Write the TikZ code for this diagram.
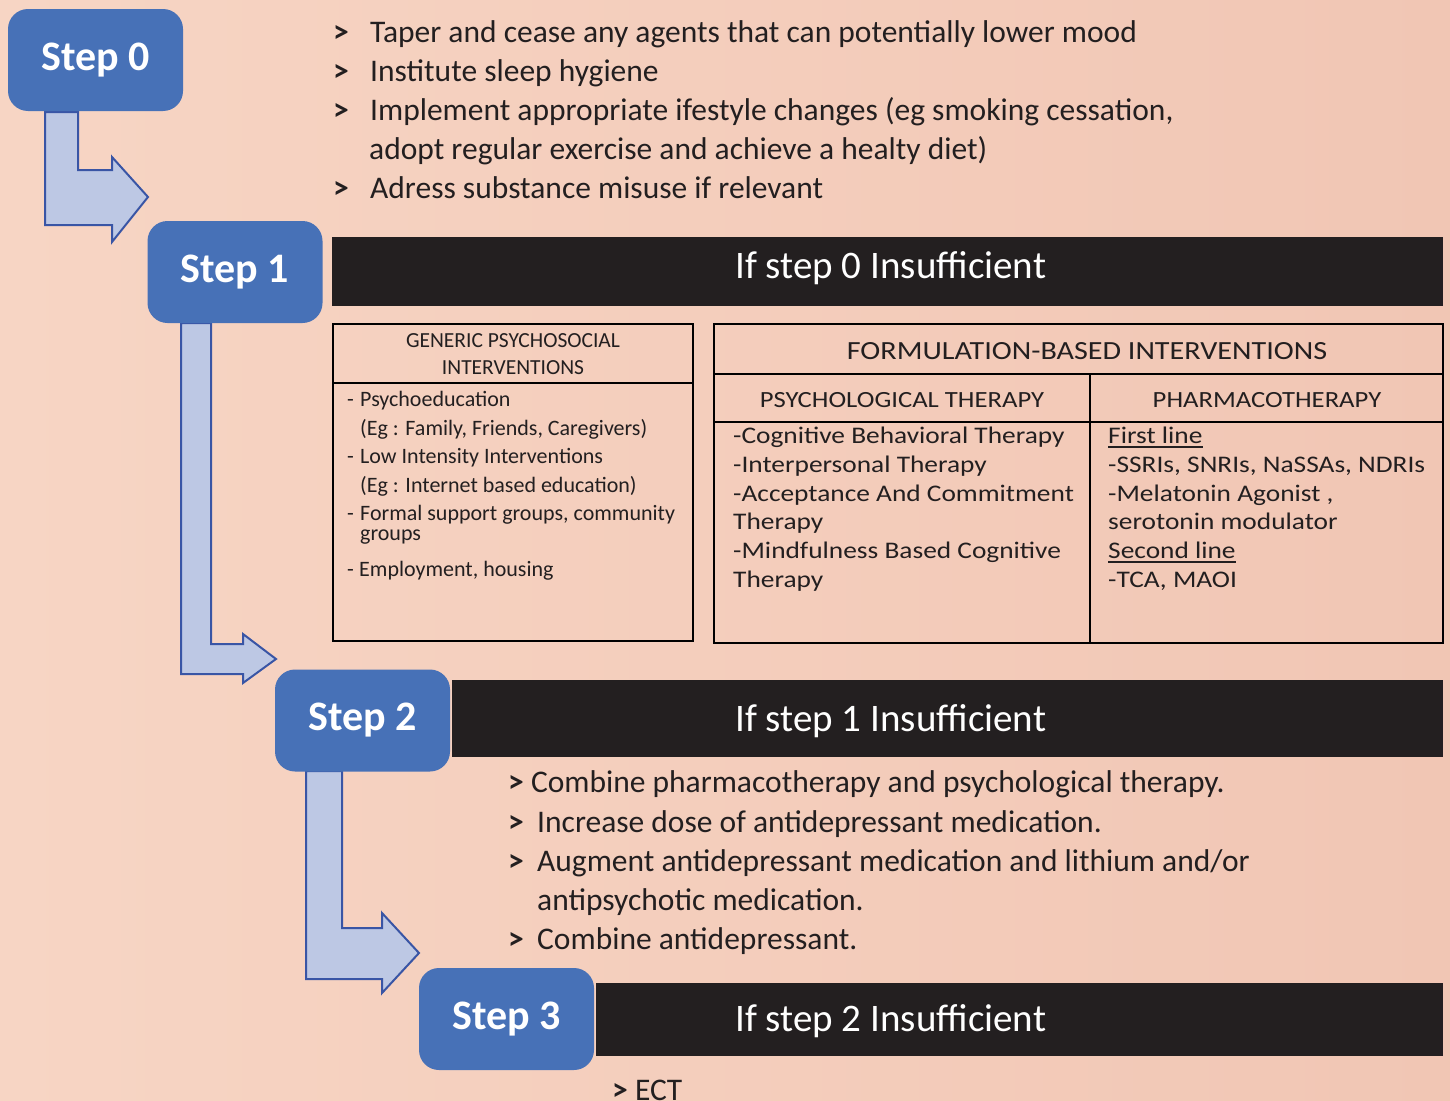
\documentclass[tikz,border=0pt]{standalone}
\usepackage{fontspec}
\setmainfont{Carlito}
\newfontfamily\widefont[FakeStretch=1.15]{Carlito}
\definecolor{bgL}{HTML}{F7D5C4}
\definecolor{bgR}{HTML}{F1C6B4}
\definecolor{stepblue}{HTML}{4771B7}
\definecolor{arrowfill}{HTML}{BDC8E4}
\definecolor{arrowline}{HTML}{3955A5}
\definecolor{barblack}{HTML}{231F20}
\definecolor{txt}{HTML}{231F20}
\newcommand{\gtmark}{\textbf{>}}
\begin{document}
\begin{tikzpicture}[x=1pt,y=-1pt,
  stepbox/.style={fill=stepblue, rounded corners=20pt, minimum width=175pt, minimum height=102pt, text=white, inner sep=0pt, font=\fontsize{42}{50}\selectfont\bfseries},
  barfill/.style={fill=barblack},
  barlabel/.style={anchor=base west, text=white, inner sep=0pt, font=\fontsize{39}{46}\selectfont},
  bendarrow/.style={fill=arrowfill, draw=arrowline, line width=2pt, line join=miter},
  bul/.style={anchor=base west, inner sep=0pt, text=txt, font=\fontsize{31.5}{38}\selectfont},
  tabline/.style={draw=black, line width=2.2pt},
  tone/.style={anchor=base west, inner sep=0pt, text=txt, font=\fontsize{22}{26}\selectfont},
  tonehead/.style={anchor=base, inner sep=0pt, text=txt, font=\fontsize{21.5}{26}\selectfont},
  ttwo/.style={anchor=base west, inner sep=0pt, text=txt, font=\widefont\fontsize{23.8}{28}\selectfont},
  ttwohead/.style={anchor=base, inner sep=0pt, text=txt, font=\widefont\fontsize{23.2}{28}\selectfont},
  ulinestyle/.style={draw=txt, line width=1.6pt}
]
\useasboundingbox (0,0) rectangle (1450,1100);
\shade[left color=bgL, right color=bgR] (0,0) rectangle (1450,1100);

% bent arrows
\draw[bendarrow] (45,112) -- (78,112) -- (78,170) -- (112,170) -- (112,157) -- (148,197) -- (112,242) -- (112,225) -- (45,225) -- cycle;
\draw[bendarrow] (181,323) -- (211,323) -- (211,644) -- (243,644) -- (243,634) -- (276,659) -- (243,683) -- (243,674) -- (181,674) -- cycle;
\draw[bendarrow] (306,771) -- (342,771) -- (342,928) -- (382,928) -- (382,913) -- (419,953) -- (382,993) -- (382,979) -- (306,979) -- cycle;

% black bars
\fill[barfill] (332,237) rectangle (1443,306);
\fill[barfill] (452,680) rectangle (1443,757);
\fill[barfill] (596,983) rectangle (1443,1056);
\node[barlabel] (b1) at (735,278) {If step 0 Insufficient};
\node[barlabel] (b2) at (735,731) {If step 1 Insufficient};
\node[barlabel] (b3) at (735,1031) {If step 2 Insufficient};

% step boxes
\node[stepbox] (s0) at (95.5,60) {Step 0};
\node[stepbox] (s1) at (235,272) {Step 1};
\node[stepbox] (s2) at (362.5,720.5) {Step 2};
\node[stepbox] (s3) at (506.5,1019) {Step 3};

% step 0 list
\node[bul] (t1) at (333,42) {\makebox[37pt][l]{\gtmark}Taper and cease any agents that can potentially lower mood};
\node[bul] (t2) at (333,81) {\makebox[37pt][l]{\gtmark}Institute sleep hygiene};
\node[bul] (t3) at (333,120) {\makebox[37pt][l]{\gtmark}Implement appropriate ifestyle changes (eg smoking cessation,};
\node[bul] (t4) at (369,159) {adopt regular exercise and achieve a healty diet)};
\node[bul] (t5) at (333,198) {\makebox[37pt][l]{\gtmark}Adress substance misuse if relevant};

% table 1
\draw[tabline] (333,324) rectangle (693,641);
\draw[tabline] (333,383) -- (693,383);
\node[tonehead] (g1) at (513,347) {GENERIC PSYCHOSOCIAL};
\node[tonehead] (g2) at (513,374) {INTERVENTIONS};
\node[tone] (p1) at (347,406) {\makebox[13pt][l]{-}Psychoeducation};
\node[tone] (p2) at (360,435) {(Eg : Family, Friends, Caregivers)};
\node[tone] (p3) at (347,463) {\makebox[13pt][l]{-}Low Intensity Interventions};
\node[tone] (p4) at (360,492) {(Eg : Internet based education)};
\node[tone] (p5) at (347,520) {\makebox[13pt][l]{-}Formal support groups, community};
\node[tone] (p6) at (360,540) {groups};
\node[tone] (p7) at (347,576) {\makebox[12pt][l]{-}Employment, housing};

% table 2
\draw[tabline] (714,324) rectangle (1443,643);
\draw[tabline] (714,374) -- (1443,374);
\draw[tabline] (714,422) -- (1443,422);
\draw[tabline] (1090,374) -- (1090,643);
\node[ttwohead, font=\widefont\fontsize{26.2}{30}\selectfont] (fh) at (1087,359) {FORMULATION-BASED INTERVENTIONS};
\node[ttwohead] (ph) at (902,407) {PSYCHOLOGICAL THERAPY};
\node[ttwohead] (mh) at (1267,407) {PHARMACOTHERAPY};
\node[ttwo] (l1) at (733,443) {-Cognitive Behavioral Therapy};
\node[ttwo] (l2) at (733,472) {-Interpersonal Therapy};
\node[ttwo] (l3) at (733,501) {-Acceptance And Commitment};
\node[ttwo] (l4) at (733,529) {Therapy};
\node[ttwo] (l5) at (733,558) {-Mindfulness Based Cognitive};
\node[ttwo] (l6) at (733,587) {Therapy};
\node[ttwo] (r1) at (1108,443) {First line};
\node[ttwo] (r2) at (1108,472) {-SSRIs, SNRIs, NaSSAs, NDRIs};
\node[ttwo] (r3) at (1108,501) {-Melatonin Agonist ,};
\node[ttwo] (r4) at (1108,529) {serotonin modulator};
\node[ttwo] (r5) at (1108,558) {Second line};
\node[ttwo] (r6) at (1108,587) {-TCA, MAOI};
\draw[ulinestyle] ([yshift=-4pt]r1.base west) -- ([yshift=-4pt]r1.base east);
\draw[ulinestyle] ([yshift=-4pt]r5.base west) -- ([yshift=-4pt]r5.base east);

% step 2 list
\node[bul] (u1) at (508,792) {\gtmark{} Combine pharmacotherapy and psychological therapy.};
\node[bul] (u2) at (508,832) {\makebox[29pt][l]{\gtmark}Increase dose of antidepressant medication.};
\node[bul] (u3) at (508,871) {\makebox[29pt][l]{\gtmark}Augment antidepressant medication and lithium and/or};
\node[bul] (u4) at (537,910) {antipsychotic medication.};
\node[bul] (u5) at (508,949) {\makebox[29pt][l]{\gtmark}Combine antidepressant.};

% step 3
\node[bul] (e1) at (612,1100) {\gtmark{} ECT};
\end{tikzpicture}
\end{document}
